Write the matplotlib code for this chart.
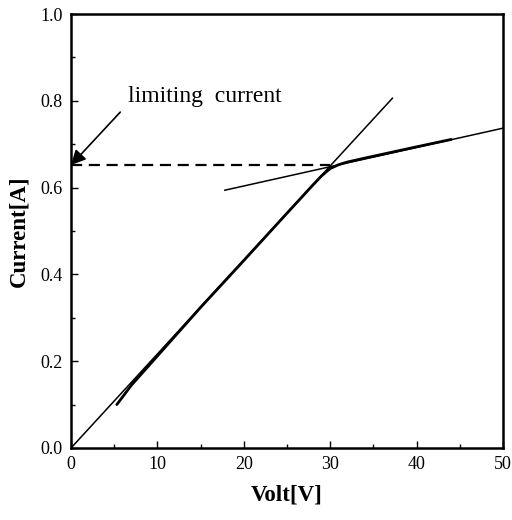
import matplotlib.pyplot as plt
import numpy as np

plt.rcParams['font.family'] = ['Liberation Serif', 'DejaVu Serif']

# measured I-V data
volt = [5.3, 7.0, 10.0, 15.0, 20.0, 25.0, 28.0, 29.0, 30.0, 31.0, 32.0, 34.0, 37.0, 40.0, 44.0]
curr = [0.100, 0.145, 0.212, 0.324, 0.432, 0.541, 0.606, 0.627, 0.644, 0.653, 0.659, 0.668, 0.681, 0.694, 0.711]

# tangent lines (end points)
ohm_x = [0.0, 37.2]
ohm_y = [0.0, 0.806]
sat_x = [17.8, 50.0]
sat_y = [0.594, 0.737]

# limiting current level
lim_x = [0.0, 30.0]
lim_y = [0.652, 0.652]

fig = plt.figure(figsize=(5.12, 5.2), dpi=100)
ax = fig.add_axes([0.1387, 0.1385, 0.8437, 0.8345])

ax.plot(volt, curr, color='k', lw=2.0, solid_capstyle='round')
ax.plot(ohm_x, ohm_y, color='k', lw=1.1)
ax.plot(sat_x, sat_y, color='k', lw=1.1)
ax.plot(lim_x, lim_y, color='k', lw=1.6, dashes=(5, 3))

ax.text(6.6, 0.81, 'limiting  current', fontsize=17, va='center', ha='left')
ax.annotate('', xy=(0.0, 0.652), xytext=(5.7, 0.774),
            arrowprops=dict(arrowstyle='-|>', mutation_scale=22, lw=1.2,
                            color='k', shrinkA=0, shrinkB=0))

ax.set_xlim(0, 50)
ax.set_ylim(0, 1.0)
ax.set_xticks([0, 10, 20, 30, 40, 50])
ax.set_xticks([5, 15, 25, 35, 45], minor=True)
ax.set_yticks([0.0, 0.2, 0.4, 0.6, 0.8, 1.0])
ax.set_yticks([0.1, 0.3, 0.5, 0.7, 0.9], minor=True)
ax.set_yticklabels(['0.0', '0.2', '0.4', '0.6', '0.8', '1.0'])
ax.tick_params(which='both', direction='in', labelsize=13, width=1.0)
ax.tick_params(which='major', length=5, pad=6)
ax.tick_params(which='minor', length=3)
for s in ax.spines.values():
    s.set_linewidth(1.8)

ax.set_xlabel('Volt[V]', fontsize=16.5, fontweight='bold', labelpad=8)
ax.set_ylabel('Current[A]', fontsize=16.5, fontweight='bold', labelpad=8)

fig.savefig('out.png', dpi=100)
